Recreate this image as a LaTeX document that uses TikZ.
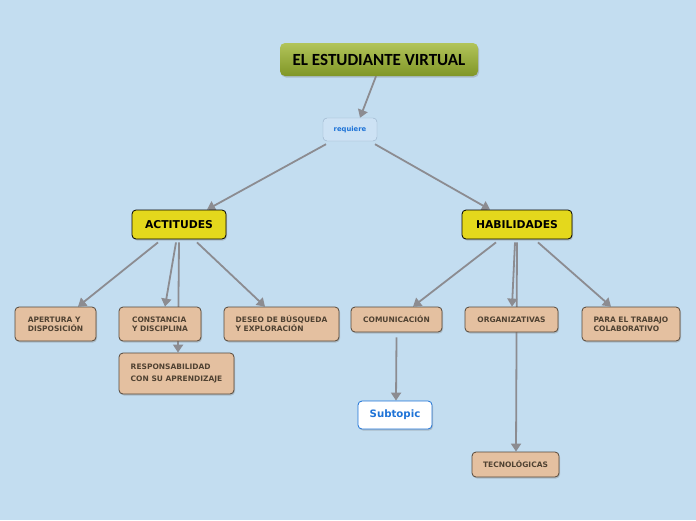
\documentclass[tikz,border=0pt]{standalone}
\usepackage{fontspec}
\newfontfamily\verd{DejaVu Sans}
\newfontfamily\titlefont{Carlito}
\usetikzlibrary{arrows.meta, shadows}

\definecolor{bgblue}{RGB}{195,221,240}
\definecolor{edgegray}{RGB}{140,140,145}
\definecolor{tanfill}{RGB}{228,192,160}
\definecolor{tanline}{RGB}{85,72,58}
\definecolor{tantext}{RGB}{80,66,50}
\definecolor{yellowfill}{RGB}{228,216,28}
\definecolor{greentop}{RGB}{178,196,90}
\definecolor{greenbot}{RGB}{128,150,38}
\definecolor{linkblue}{RGB}{30,115,215}
\definecolor{reqfill}{RGB}{205,226,244}
\definecolor{reqline}{RGB}{150,175,200}

\pgfdeclarelayer{back}
\pgfdeclarelayer{edges}
\pgfsetlayers{back,edges,main}

\begin{document}
\begin{tikzpicture}[x=1pt, y=-1pt,
    shade/.style={drop shadow={shadow xshift=1pt, shadow yshift=-1.5pt, opacity=0.35}},
    titlebox/.style={rounded corners=5pt, top color=greentop, bottom color=greenbot,
        minimum width=198pt, minimum height=33pt, font=\titlefont\bfseries\fontsize{17}{17}\selectfont, shade},
    reqbox/.style={rounded corners=4pt, draw=reqline, fill=reqfill, text=linkblue,
        minimum width=54pt, minimum height=23pt, font=\verd\bfseries\fontsize{6.8}{7}\selectfont},
    mainbox/.style={rounded corners=4pt, draw=black, thick, fill=yellowfill,
        minimum height=29pt, font=\verd\bfseries\fontsize{10.8}{11}\selectfont, shade},
    leafbox/.style={rounded corners=4pt, draw=tanline, thick, fill=tanfill, text=tantext,
        inner xsep=4pt, align=left, font=\verd\bfseries\fontsize{7.5}{9}\selectfont, shade},
    subbox/.style={rounded corners=4pt, draw=linkblue, thick, fill=white, text=linkblue,
        minimum width=74pt, minimum height=28pt, font=\verd\bfseries\fontsize{10.2}{11}\selectfont, shade},
    link/.style={draw=edgegray, line width=1.8pt, -{Triangle[width=10pt,length=8pt]}}]

    \begin{pgfonlayer}{back}
        \fill[bgblue] (0,0) rectangle (696,520);
    \end{pgfonlayer}
    \useasboundingbox (0,0) rectangle (696,520);

    % central topic
    \node[titlebox] (title) at (379,59.5) {EL ESTUDIANTE VIRTUAL};
    \node[reqbox] (req) at (350,129.5) {requiere};

    % main topics
    \node[mainbox, minimum width=94pt] (act) at (179,224.5) {ACTITUDES};
    \node[mainbox, minimum width=110pt] (hab) at (517,224.5) {HABILIDADES};

    % actitudes
    \node[leafbox, minimum width=81pt, minimum height=34pt] (aper) at (55.5,324) {APERTURA Y\\DISPOSICIÓN};
    \node[leafbox, minimum width=82pt, minimum height=34pt] (const) at (160,324) {CONSTANCIA\\Y DISCIPLINA};
    \node[leafbox, minimum width=115pt, minimum height=34pt] (deseo) at (281.5,324) {DESEO DE BÚSQUEDA\\Y EXPLORACIÓN};
    \node[leafbox, minimum width=115pt, minimum height=41pt, font=\verd\bfseries\fontsize{7.5}{12}\selectfont] (resp) at (176.5,373.5) {RESPONSABILIDAD\\CON SU APRENDIZAJE};

    % habilidades
    \node[leafbox, minimum width=91pt, minimum height=25pt] (com) at (396.5,319.5) {COMUNICACIÓN};
    \node[leafbox, minimum width=93pt, minimum height=25pt] (org) at (511.5,319.5) {ORGANIZATIVAS};
    \node[leafbox, minimum width=98pt, minimum height=34pt] (para) at (631,324) {PARA EL TRABAJO\\COLABORATIVO};
    \node[subbox] (sub) at (395,415) {Subtopic};
    \node[leafbox, minimum width=87pt, minimum height=25pt] (tec) at (515.5,464.5) {TECNOLÓGICAS};

    % connectors
    \begin{pgfonlayer}{edges}
        \draw[link] ([xshift=-3pt]title.south) -- ([xshift=10pt]req.north);
        \draw[link] ([xshift=-24pt, yshift=-3pt]req.south) -- ([xshift=28pt]act.north);
        \draw[link] ([xshift=25pt, yshift=-3pt]req.south) -- ([xshift=-27pt]hab.north);

        \draw[link] ([xshift=-21pt, yshift=-3pt]act.south) -- ([xshift=22.5pt]aper.north);
        \draw[link] ([xshift=-3pt, yshift=-3pt]act.south) -- ([xshift=5pt]const.north);
        \draw[link] ([yshift=-3pt]act.south) -- ([xshift=1.5pt]resp.north);
        \draw[link] ([xshift=18pt, yshift=-3pt]act.south) -- ([xshift=-16.5pt]deseo.north);

        \draw[link] ([xshift=-21pt, yshift=-3pt]hab.south) -- ([xshift=16.5pt]com.north);
        \draw[link] ([xshift=-2pt, yshift=-3pt]hab.south) -- ([xshift=0.5pt]org.north);
        \draw[link] ([yshift=-3pt]hab.south) -- ([xshift=0.5pt]tec.north);
        \draw[link] ([xshift=21pt, yshift=-3pt]hab.south) -- ([xshift=-20pt]para.north);
        \draw[link] ([yshift=-5pt]com.south) -- ([xshift=1pt]sub.north);
    \end{pgfonlayer}
\end{tikzpicture}
\end{document}
